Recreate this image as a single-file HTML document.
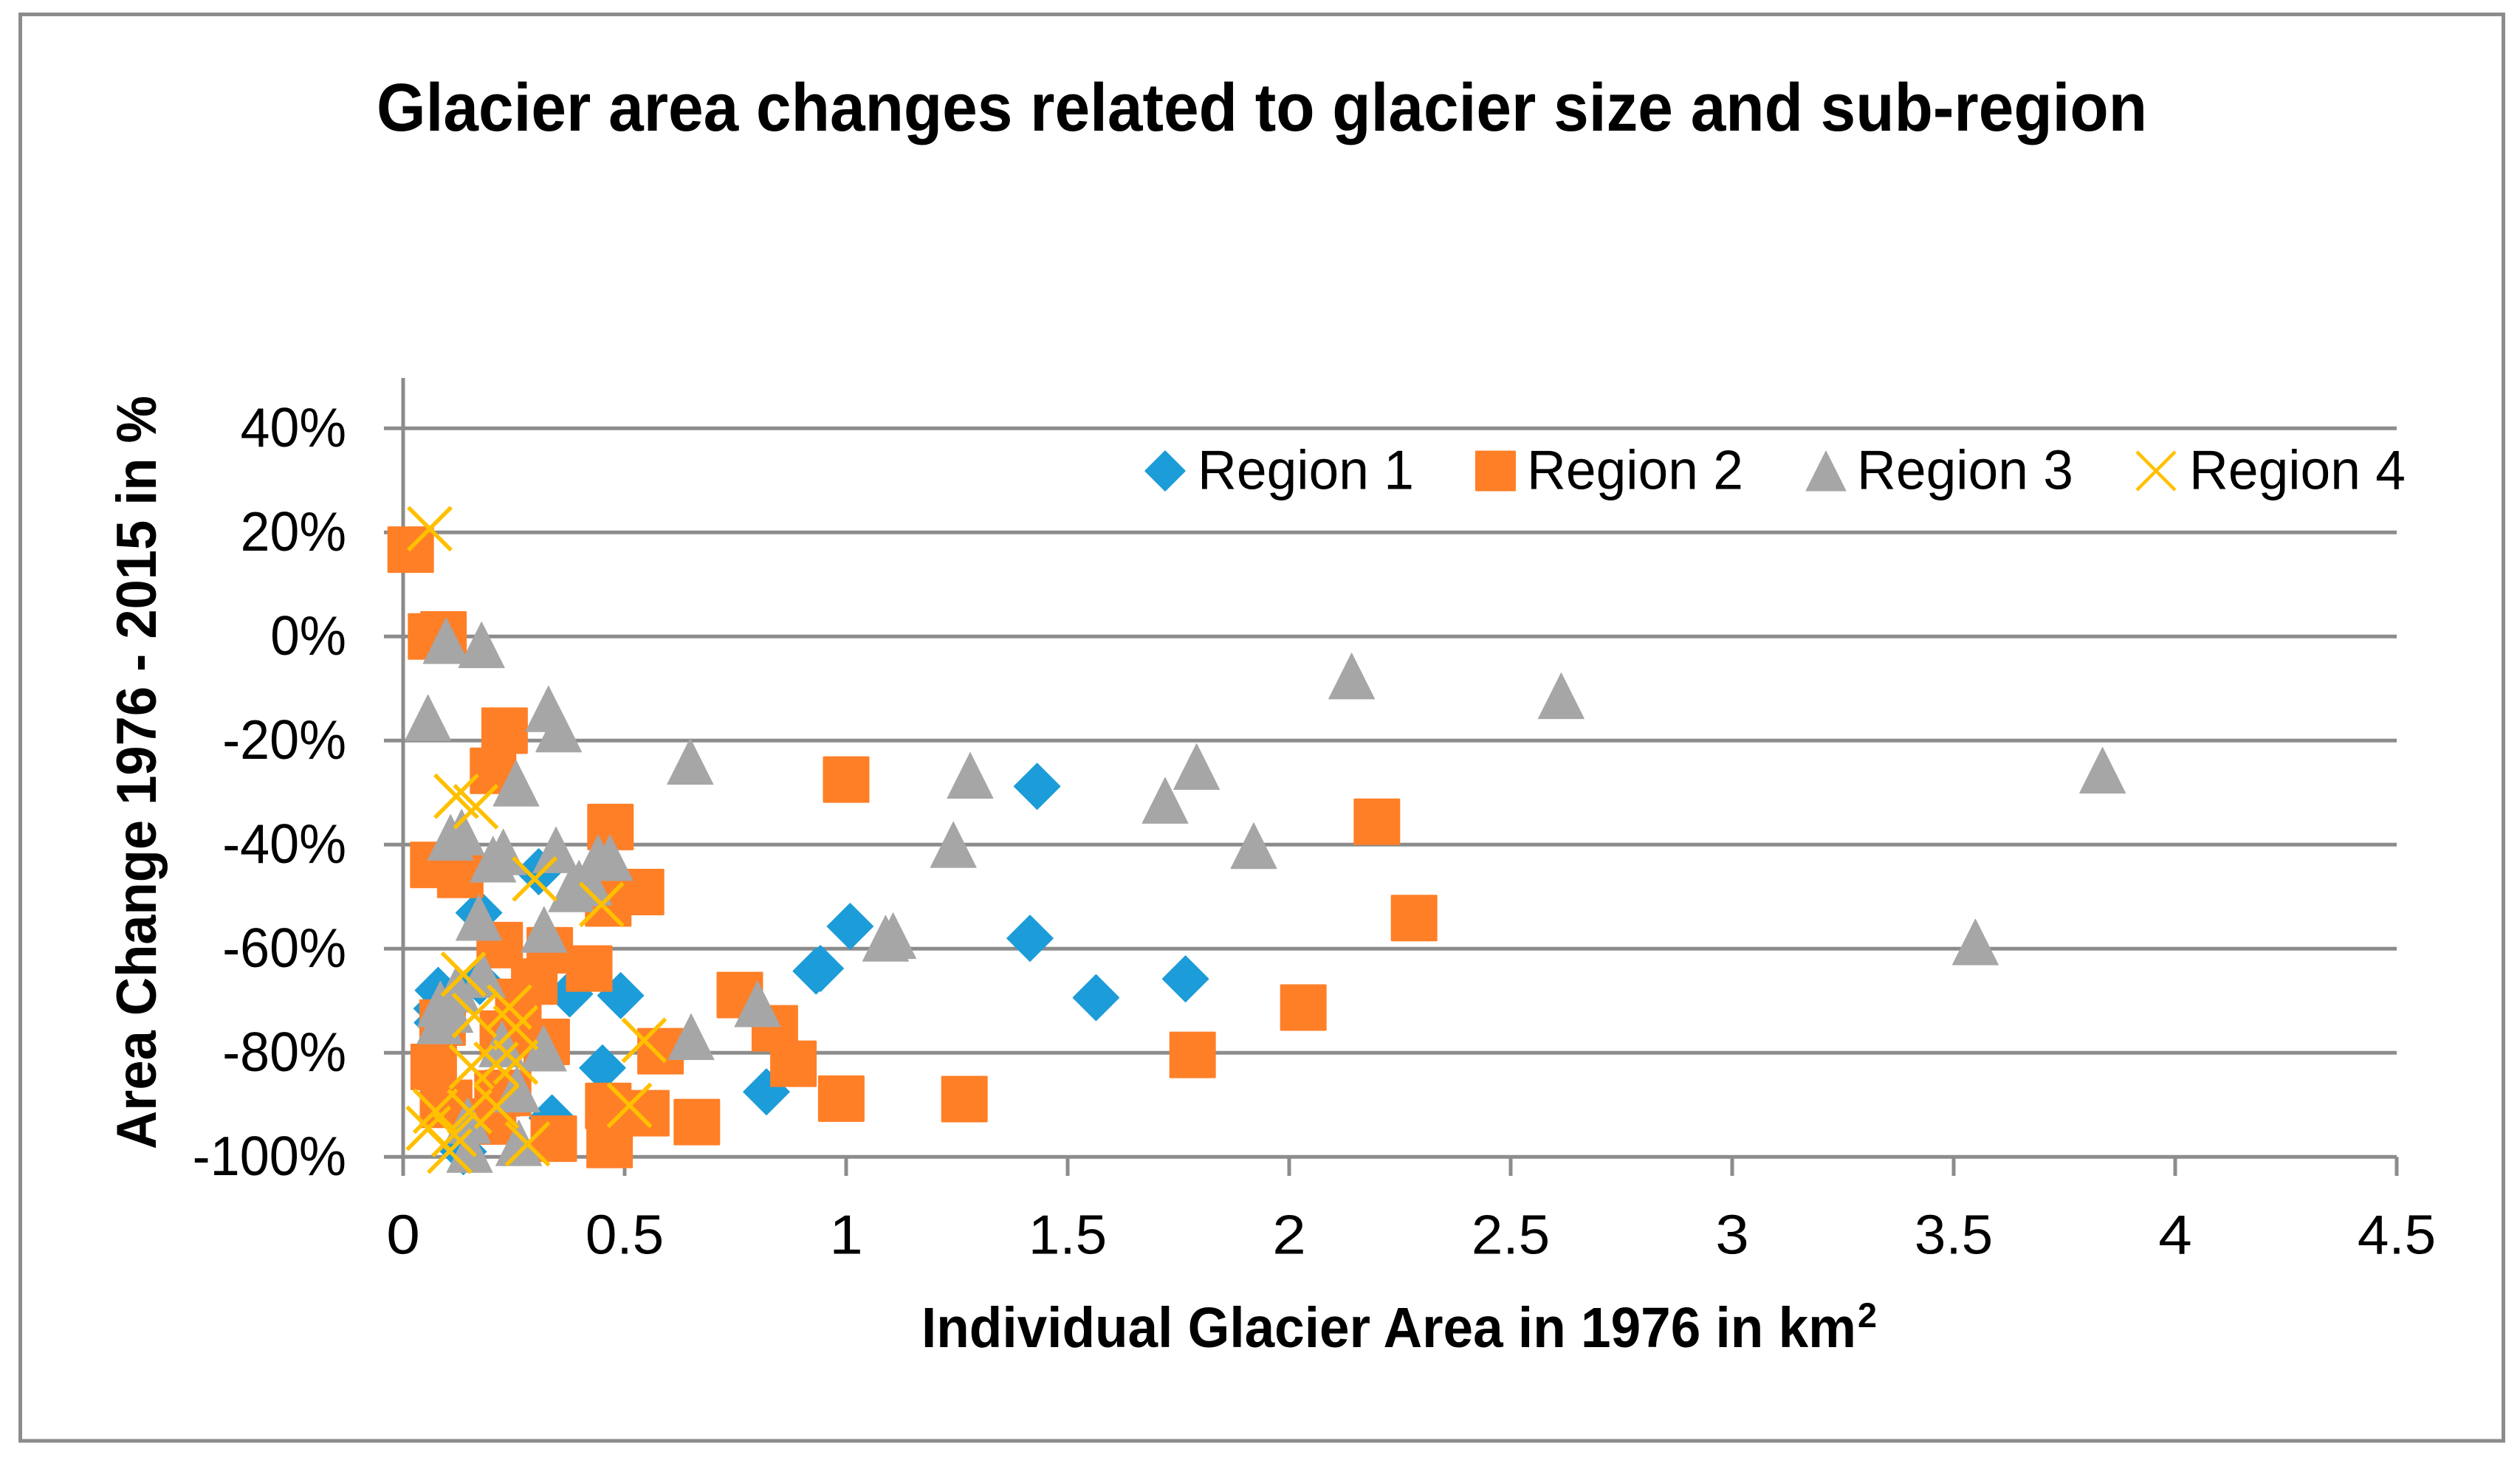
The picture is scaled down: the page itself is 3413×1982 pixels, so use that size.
<!DOCTYPE html>
<html lang="en">
<head>
<meta charset="utf-8">
<title>Glacier area changes related to glacier size and sub-region</title>
<style>
  html, body { margin: 0; padding: 0; background: #fff; }
  svg { display: block; }
  text { font-family: "Liberation Sans", sans-serif; fill: #000; }
</style>
</head>
<body>
<svg id="chart" xmlns="http://www.w3.org/2000/svg" width="3413" height="1982" viewBox="0 0 3413 1982">
  <rect x="0" y="0" width="3413" height="1982" fill="#ffffff"></rect>
  <rect x="27.5" y="19.5" width="3363" height="1932.5" fill="#ffffff" stroke="#8c8c8c" stroke-width="5"></rect>
  <text x="510" y="177" font-size="92" font-weight="700" textLength="2398" lengthAdjust="spacingAndGlyphs">Glacier area changes related to glacier size and sub-region</text>
  <text x="1248" y="1825" font-size="77" font-weight="700" textLength="1266" lengthAdjust="spacingAndGlyphs">Individual Glacier Area in 1976 in km</text>
  <text x="2516" y="1798" font-size="47" font-weight="700" textLength="26" lengthAdjust="spacingAndGlyphs">2</text>
  <text x="0" y="0" transform="translate(211 1557) rotate(-90)" font-size="76" font-weight="700" textLength="1021" lengthAdjust="spacingAndGlyphs">Area Change 1976 - 2015 in %</text>
  <g id="axes"></g>
  <g id="marks"></g>
  <g id="legend"></g>
</svg>
<script>
var xTicks = [0, 0.5, 1, 1.5, 2, 2.5, 3, 3.5, 4, 4.5];
var yTicks = [40, 20, 0, -20, -40, -60, -80, -100];
var seriesNames = ['Region 1', 'Region 2', 'Region 3', 'Region 4'];

var region1X = [0.306, 0.171, 0.079, 0.076, 0.077, 0.376, 0.491, 0.45, 0.336, 0.136, 0.173, 0.82, 0.942, 0.932, 1.009, 1.415, 1.431, 1.564, 1.766];
var region1Y = [-45.2, -53.1, -68, -71.5, -74.2, -68.7, -69, -82.9, -92.5, -99, -66.3, -87.5, -63.8, -64.3, -55.7, -58, -28.8, -69.4, -65.8];

var region2X = [0.017, 0.063, 0.091, 0.229, 0.203, 0.468, 0.068, 0.129, 0.537, 0.463, 0.218, 0.331, 0.42, 0.296, 0.26, 0.089, 0.225, 0.324, 0.069, 0.581, 0.463, 0.549, 0.663, 0.466, 0.34, 0.104, 0.09, 0.237, 0.213, 0.203, 0.76, 1.0, 0.839, 0.881, 0.989, 1.267, 1.782, 2.032, 2.198, 2.282];
var region2Y = [16.7, 0, 0.4, -18.1, -25.8, -36.6, -43.9, -45.8, -49.1, -51.3, -59.3, -60.3, -63.8, -66.3, -70.2, -74.2, -76.3, -77.9, -82.7, -79.7, -90.2, -91.6, -93.3, -97.7, -96.5, -89.6, -90, -87.7, -87.8, -93.2, -68.9, -27.5, -75.3, -82.1, -88.8, -88.9, -80.4, -71.3, -35.6, -54.1];

var region3X = [0.097, 0.177, 0.056, 0.328, 0.351, 0.255, 0.648, 0.107, 0.132, 0.203, 0.226, 0.345, 0.397, 0.318, 0.38, 0.44, 0.467, 0.42, 0.171, 0.65, 0.179, 0.12, 0.106, 0.084, 0.083, 0.223, 0.317, 0.257, 0.146, 0.15, 0.261, 1.242, 1.28, 1.72, 1.791, 1.92, 1.089, 1.106, 0.8, 2.141, 2.614, 3.836, 3.549];
var region3Y = [-0.8, -1.6, -15.6, -13.9, -17.8, -28.2, -24, -38.6, -37.6, -42.8, -41.4, -41, -47.4, -56.3, -48.5, -42.5, -42.5, -47.2, -54, -76.9, -65, -67.8, -71.7, -70.6, -73.9, -78.3, -79.1, -87, -93, -98.6, -97.3, -40, -26.7, -31.5, -25, -40.2, -58, -57.5, -70.6, -7.6, -11.4, -25.7, -58.7];

var region4X = [0.06, 0.12, 0.164, 0.297, 0.448, 0.136, 0.24, 0.161, 0.254, 0.544, 0.154, 0.21, 0.254, 0.211, 0.15, 0.511, 0.281, 0.073, 0.057, 0.115, 0.105];
var region4Y = [20.7, -30.7, -32.7, -46.6, -51.5, -64.9, -71.2, -72.8, -75.2, -77.6, -82.7, -82.2, -81.8, -90.3, -91.3, -90.1, -97.5, -91.2, -94.5, -95.7, -98.9];

var NS = 'http://www.w3.org/2000/svg';
var AXIS = '#8c8c8c', BLUE = '#1c9cd8', ORANGE = '#ff7f27', GRAY = '#a6a6a6', YELLOW = '#ffc000';
function xScale(v) { return 546 + 600 * v; }
function yScale(v) { return 862.3 - 7.05 * v; }

function make(tag, attrs, parent) {
  var el = document.createElementNS(NS, tag);
  for (var k in attrs) { el.setAttribute(k, attrs[k]); }
  parent.appendChild(el);
  return el;
}
function labelWidth(s) {
  var w = 0;
  for (var i = 0; i < s.length; i++) {
    var c = s.charAt(i);
    w += c === '%' ? 0.715 : c === '-' ? 0.306 : c === '.' ? 0.252 : 0.507;
  }
  return w * 80 + 5;
}
function diamond(cx, cy, r, parent) {
  return make('polygon', { points: (cx - r) + ',' + cy + ' ' + cx + ',' + (cy - r) + ' ' + (cx + r) + ',' + cy + ' ' + cx + ',' + (cy + r), fill: BLUE, stroke: BLUE, 'stroke-width': 1.5, 'stroke-linejoin': 'round' }, parent);
}
function square(cx, cy, r, parent) {
  return make('rect', { x: cx - r, y: cy - r, width: 2 * r, height: 2 * r, rx: 1.5, fill: ORANGE }, parent);
}
function triangle(cx, cy, r, parent) {
  return make('polygon', { points: (cx - r) + ',' + (cy + r) + ' ' + cx + ',' + (cy - r) + ' ' + (cx + r) + ',' + (cy + r), fill: GRAY, stroke: GRAY, 'stroke-width': 1, 'stroke-linejoin': 'round' }, parent);
}
function cross(cx, cy, r, sw, parent) {
  return make('path', { d: 'M' + (cx - r) + ' ' + (cy - r) + 'L' + (cx + r) + ' ' + (cy + r) + 'M' + (cx - r) + ' ' + (cy + r) + 'L' + (cx + r) + ' ' + (cy - r), fill: 'none', stroke: YELLOW, 'stroke-width': sw }, parent);
}

var axes = document.getElementById('axes');
var marks = document.getElementById('marks');
var legend = document.getElementById('legend');

yTicks.forEach(function (v) {
  var y = yScale(v);
  var line = make('line', { x1: 520, x2: xScale(4.5), y1: y, y2: y, stroke: AXIS, 'stroke-width': 5 }, axes);
  
  
  var s = v + '%';
  var t = make('text', { x: 469 - labelWidth(s), y: y + 24.5, 'font-size': 75, textLength: labelWidth(s), lengthAdjust: 'spacingAndGlyphs' }, axes);
  t.textContent = s;
  
  
});

var yAxisLine = make('line', { x1: xScale(0), x2: xScale(0), y1: 512, y2: 1593, stroke: AXIS, 'stroke-width': 5 }, axes);



xTicks.forEach(function (v) {
  var x = xScale(v);
  var tick = make('line', { x1: x, x2: x, y1: yScale(-100), y2: 1593, stroke: AXIS, 'stroke-width': 5 }, axes);
  
  
  var s = String(v);
  var w = labelWidth(s);
  var t = make('text', { x: x - w / 2, y: 1698.5, 'font-size': 75, textLength: w, lengthAdjust: 'spacingAndGlyphs' }, axes);
  t.textContent = s;
  
  
});

region1X.forEach(function (v, i) {
  var m = diamond(xScale(v), yScale(region1Y[i]), 31, marks);
  
  
});
region2X.forEach(function (v, i) {
  var m = square(xScale(v), yScale(region2Y[i]), 31.5, marks);
  
  
});
region3X.forEach(function (v, i) {
  var m = triangle(xScale(v), yScale(region3Y[i]), 31, marks);
  
  
});
region4X.forEach(function (v, i) {
  var m = cross(xScale(v), yScale(region4Y[i]), 29, 5.5, marks);
  
  
});

var legendMarkerX = [1578, 2025.5, 2473, 2920];
var legendTextX = [1622, 2068, 2515, 2965];
var legendMarkers = [
  function (x, p) { return diamond(x, 638, 27, p); },
  function (x, p) { return square(x, 638, 27.5, p); },
  function (x, p) { return triangle(x, 638, 27, p); },
  function (x, p) { return cross(x, 638, 26, 4.5, p); }
];
seriesNames.forEach(function (name, i) {
  var mk = legendMarkers[i](legendMarkerX[i], legend);
  
  
  var t = make('text', { x: legendTextX[i], y: 662.7, 'font-size': 75, textLength: 293, lengthAdjust: 'spacingAndGlyphs' }, legend);
  t.textContent = name;
  
  
});
</script>
</body>
</html>
